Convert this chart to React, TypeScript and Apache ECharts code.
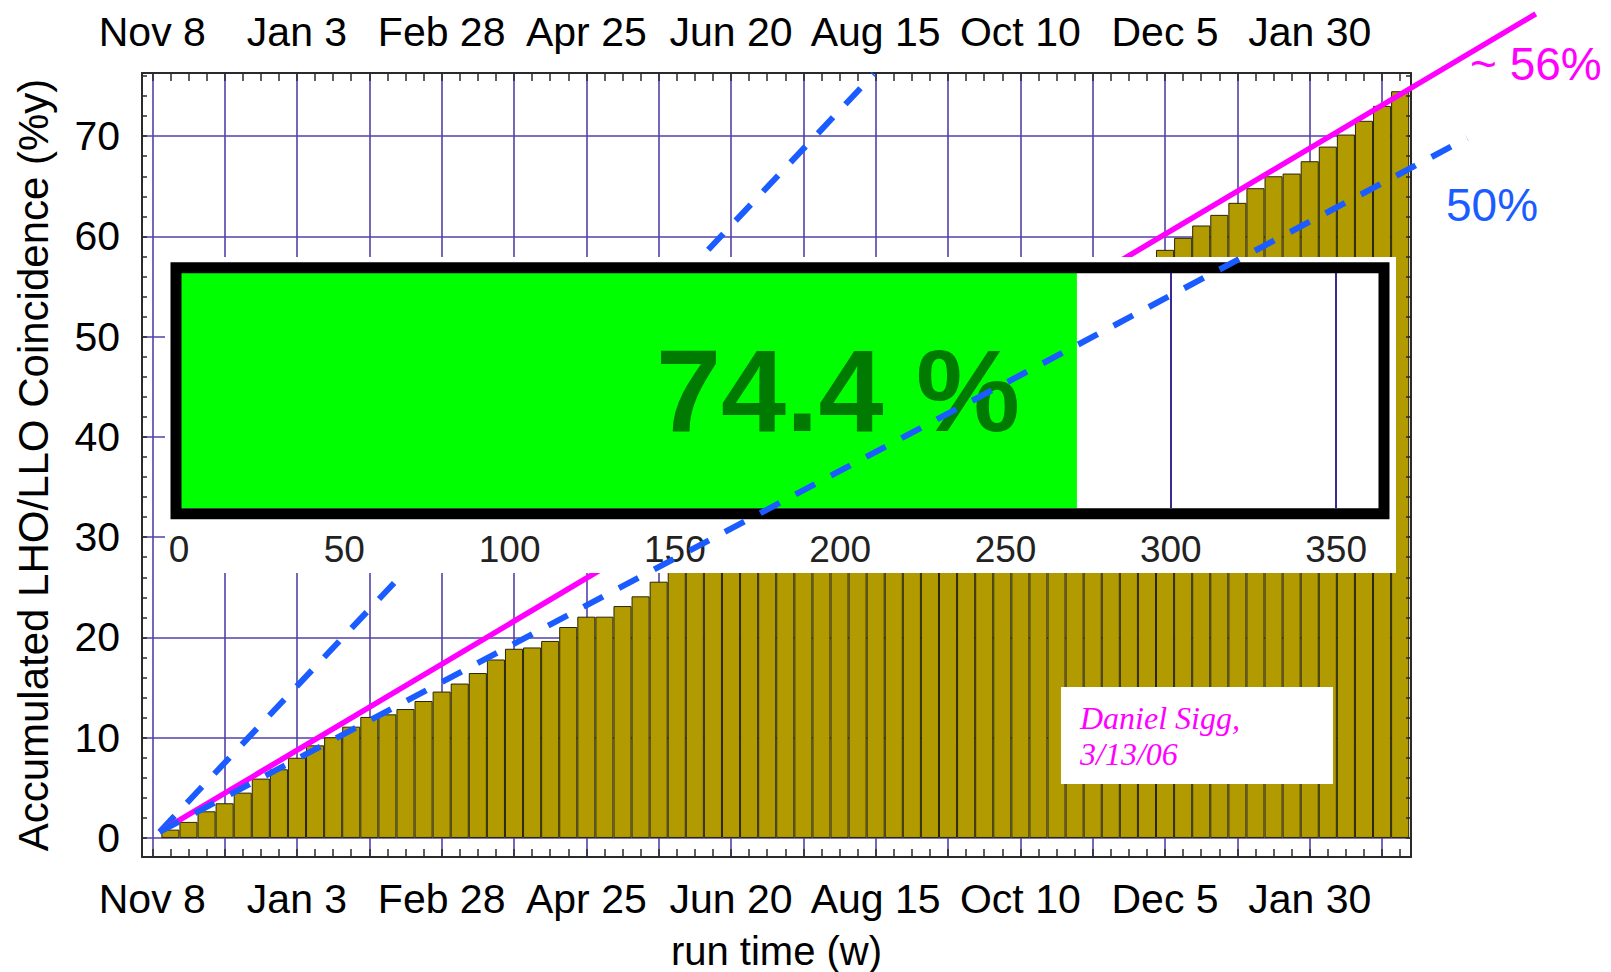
import React, { useEffect, useRef } from "react";
import * as echarts from "echarts";

// Accumulated LHO/LLO coincidence (%y) at the end of each run week (week 1 .. 69)
const weeklyCoincidence = [
  0.83, 1.6, 2.66, 3.46, 4.52, 5.92, 6.85, 8.0, 9.24, 10.04,
  11.1, 12.07, 12.33, 12.86, 13.66, 14.6, 15.4, 16.45, 17.8, 18.87,
  19.0, 19.65, 21.04, 22.07, 22.07, 23.13, 24.1, 25.56, 26.9, 28.1,
  29.0, 30.3, 31.5, 32.4, 33.6, 34.9, 35.8, 36.7, 37.9, 39.2,
  40.4, 41.3, 42.5, 43.8, 44.6, 45.7, 47.0, 48.2, 49.1, 50.3,
  51.6, 52.8, 54.0, 55.4, 57.3, 58.66, 59.86, 61.09, 62.15, 63.35,
  64.81, 66.0, 66.27, 67.5, 68.96, 70.16, 71.53, 73.02, 74.48,
];

// Date labels (every 8 weeks from Nov 8)
const dateLabels = ["Nov 8", "Jan 3", "Feb 28", "Apr 25", "Jun 20", "Aug 15", "Oct 10", "Dec 5", "Jan 30"];
const dateLabelWeeks = [0, 8, 16, 24, 32, 40, 48, 56, 64];
const gridWeeks = [0, 4, 8, 12, 16, 20, 24, 28, 32, 36, 40, 44, 48, 52, 56, 60, 64, 68];
const yLabelValues = [0, 10, 20, 30, 40, 50, 60, 70];

// Reference duty-cycle lines [week, %y]
const fullDutyLine = [[0.4, 0.6], [39.9, 76.2]]; // 100 %
const achievedLine = [[0.4, 0.6], [76.5, 82.2]]; // ~56 %
const halfDutyLine = [[0.4, 0.6], [72.7, 69.8]]; // 50 %

// Inset progress bar (days of the year)
const insetDays = [271.6];
const insetTickValues = [0, 50, 100, 150, 200, 250, 300, 350];
const insetMarkers = [300, 350];
const insetLabel = "74.4 %";

const X_MIN = -0.57;
const X_MAX = 69.6;
const Y_MIN = -1.9;
const Y_MAX = 76.3;

// main plot frame (px)
const PLOT_LEFT = 142;
const PLOT_TOP = 73;
const PLOT_W = 1269;
const PLOT_H = 784;
const PAGE_W = 1611;

const FONT = '"Liberation Sans", Arial, Helvetica, sans-serif';
const FRAME = "#2a2a2a";
const GRIDC = "#5341a8";
const BLUE = "#1a5cff";
const MAGENTA = "#ff00ff";

export default function App() {
  const ref = useRef<HTMLDivElement>(null);

  useEffect(() => {
    if (!ref.current) return;
    const chart = echarts.init(ref.current, null, { renderer: "svg" });

    const weekTicks = Array.from({ length: 70 }, (_, i) => i);
    const yMinorTicks = Array.from({ length: 39 }, (_, i) => i * 2);
    const dateFmt = (v: number) => {
      const i = dateLabelWeeks.indexOf(Math.round(v));
      return i >= 0 ? dateLabels[i] : "";
    };

    // overlay grid sharing the same scale as the main plot, extended to the page's top/right
    const pxPerWeek = PLOT_W / (X_MAX - X_MIN);
    const pxPerUnit = PLOT_H / (Y_MAX - Y_MIN);
    const overlayXMax = X_MIN + (PAGE_W - PLOT_LEFT) / pxPerWeek;
    const overlayYMax = Y_MAX + PLOT_TOP / pxPerUnit;

    const labelStyle = { fontFamily: FONT, fontSize: 41, color: "#000" };
    const hiddenAxis = {
      axisLine: { show: false, onZero: false },
      axisTick: { show: false },
      axisLabel: { show: false },
      splitLine: { show: false },
    };

    const option: any = {
      animation: false,
      backgroundColor: "#ffffff",
      grid: [
        { left: PLOT_LEFT, top: PLOT_TOP, width: PLOT_W, height: PLOT_H, outerBoundsMode: "none", containLabel: false },
        { left: 179, top: 273, width: 1206.7, height: 235, z: 6, outerBoundsMode: "none", containLabel: false },
        {
          left: PLOT_LEFT, top: 0, width: PAGE_W - PLOT_LEFT, height: PLOT_TOP + PLOT_H,
          outerBoundsMode: "none", containLabel: false,
        },
      ],
      xAxis: [
        {
          gridIndex: 0,
          type: "value",
          position: "bottom",
          min: X_MIN,
          max: X_MAX,
          axisLine: { show: true, onZero: false, lineStyle: { color: FRAME, width: 2 } },
          axisTick: { show: true, inside: true, length: 8, customValues: weekTicks, lineStyle: { color: FRAME, width: 1.5 } },
          axisLabel: { show: true, customValues: dateLabelWeeks, formatter: dateFmt, margin: 21, ...labelStyle },
          splitLine: { show: false },
          name: "run time (w)",
          nameLocation: "middle",
          nameGap: 74,
          nameTextStyle: { fontFamily: FONT, fontSize: 40, color: "#000", lineHeight: 40 },
        },
        {
          gridIndex: 0,
          type: "value",
          position: "top",
          min: X_MIN,
          max: X_MAX,
          axisLine: { show: true, onZero: false, lineStyle: { color: FRAME, width: 2 } },
          axisTick: { show: true, inside: true, length: 8, customValues: weekTicks, lineStyle: { color: FRAME, width: 1.5 } },
          axisLabel: { show: true, customValues: dateLabelWeeks, formatter: dateFmt, margin: 21, ...labelStyle },
          splitLine: { show: false },
        },
        {
          gridIndex: 0,
          type: "value",
          position: "bottom",
          min: X_MIN,
          max: X_MAX,
          axisLine: { show: false, onZero: false },
          axisTick: { show: false, customValues: gridWeeks },
          axisLabel: { show: false },
          splitLine: { show: true, lineStyle: { color: GRIDC, width: 1.6 } },
        },
        {
          gridIndex: 1,
          type: "value",
          min: 0,
          max: 365,
          z: 7,
          axisLine: { show: false, onZero: false },
          axisTick: { show: false, customValues: insetTickValues },
          axisLabel: { show: true, customValues: insetTickValues, margin: 23, fontFamily: FONT, fontSize: 37, color: "#222" },
          splitLine: { show: false },
        },
        { gridIndex: 2, type: "value", min: X_MIN, max: overlayXMax, ...hiddenAxis },
      ],
      yAxis: [
        {
          gridIndex: 0,
          type: "value",
          position: "left",
          min: Y_MIN,
          max: Y_MAX,
          axisLine: { show: true, onZero: false, lineStyle: { color: FRAME, width: 2 } },
          axisTick: { show: true, inside: true, length: 5, customValues: yMinorTicks, lineStyle: { color: FRAME, width: 1.5 } },
          axisLabel: { show: true, customValues: yLabelValues, margin: 22, ...labelStyle },
          splitLine: { show: false },
          name: "Accumulated LHO/LLO Coincidence (%y)",
          nameLocation: "middle",
          nameGap: 88,
          nameTextStyle: { fontFamily: FONT, fontSize: 42, color: "#000" },
        },
        {
          gridIndex: 0,
          type: "value",
          position: "right",
          min: Y_MIN,
          max: Y_MAX,
          z: 3,
          axisLine: { show: true, onZero: false, lineStyle: { color: FRAME, width: 2 } },
          axisTick: { show: true, inside: true, length: 5, customValues: yMinorTicks, lineStyle: { color: FRAME, width: 1.5 } },
          axisLabel: { show: false },
          splitLine: { show: false },
        },
        {
          gridIndex: 0,
          type: "value",
          position: "left",
          min: Y_MIN,
          max: Y_MAX,
          axisLine: { show: false, onZero: false },
          axisTick: { show: false, customValues: yLabelValues },
          axisLabel: { show: false },
          splitLine: { show: true, lineStyle: { color: GRIDC, width: 1.6 } },
        },
        {
          gridIndex: 1,
          type: "category",
          data: ["coincidence"],
          show: false,
        },
        { gridIndex: 2, type: "value", min: Y_MIN, max: overlayYMax, ...hiddenAxis },
      ],
      series: [
        {
          type: "bar",
          xAxisIndex: 0,
          yAxisIndex: 0,
          z: 2,
          barWidth: 18.08,
          data: weeklyCoincidence.map((v, i) => [i + 1, v]),
          itemStyle: { color: "#b19b00", borderColor: "#2b2600", borderWidth: 1 },
        },
        {
          type: "line",
          xAxisIndex: 0,
          yAxisIndex: 0,
          z: 3,
          data: fullDutyLine,
          symbol: "none",
          lineStyle: { color: BLUE, width: 6, type: [22, 18], cap: "butt" },
        },
        {
          type: "line",
          xAxisIndex: 4,
          yAxisIndex: 4,
          z: 3,
          clip: false,
          data: achievedLine,
          symbol: "none",
          lineStyle: { color: MAGENTA, width: 5.5, type: "solid" },
        },
        {
          type: "bar",
          xAxisIndex: 3,
          yAxisIndex: 3,
          z: 6,
          barWidth: 235,
          data: insetDays,
          itemStyle: { color: "#00ff00" },
          markLine: {
            silent: true,
            symbol: ["none", "none"],
            label: { show: false },
            lineStyle: { color: "#3a2a8f", width: 2, type: "solid" },
            data: insetMarkers.map((v) => ({ xAxis: v })),
          },
        },
        {
          type: "line",
          xAxisIndex: 4,
          yAxisIndex: 4,
          z: 10,
          clip: false,
          data: halfDutyLine,
          symbol: "none",
          lineStyle: { color: BLUE, width: 6, type: [22, 18], cap: "butt" },
        },
      ],
      graphic: [
        { type: "rect", z: 5, silent: true, shape: { x: 165, y: 257, width: 1231, height: 316 }, style: { fill: "#ffffff" } },
        { type: "rect", z: 7, silent: true, shape: { x: 176, y: 267.8, width: 1208, height: 246 }, style: { fill: "none", stroke: "#000", lineWidth: 11 } },
        {
          type: "text", z: 8, x: 838, y: 390,
          style: { text: insetLabel, font: `bold 117px ${FONT}`, fill: "#007a00", align: "center", verticalAlign: "middle" },
        },
        {
          type: "text", z: 10, x: 1470, y: 64,
          style: { text: "~ 56%", font: `46px ${FONT}`, fill: MAGENTA, align: "left", verticalAlign: "middle" },
        },
        {
          type: "text", z: 10, x: 1446, y: 205,
          style: { text: "50%", font: `46px ${FONT}`, fill: BLUE, align: "left", verticalAlign: "middle" },
        },
        { type: "rect", z: 5, silent: true, shape: { x: 1061, y: 687, width: 272, height: 97 }, style: { fill: "#ffffff" } },
        {
          type: "text", z: 6, x: 1080, y: 717.5,
          style: { text: "Daniel Sigg,", font: `italic 32px "Liberation Serif", "Times New Roman", serif`, fill: MAGENTA, align: "left", verticalAlign: "middle" },
        },
        {
          type: "text", z: 6, x: 1080, y: 754,
          style: { text: "3/13/06", font: `italic 32px "Liberation Serif", "Times New Roman", serif`, fill: MAGENTA, align: "left", verticalAlign: "middle" },
        },
      ],
    };

    chart.setOption(option);
    return () => chart.dispose();
  }, []);

  return (
    <div
      ref={ref}
      style={{ position: "absolute", left: 0, top: 0, width: 1611, height: 972, background: "#fff" }}
    />
  );
}
